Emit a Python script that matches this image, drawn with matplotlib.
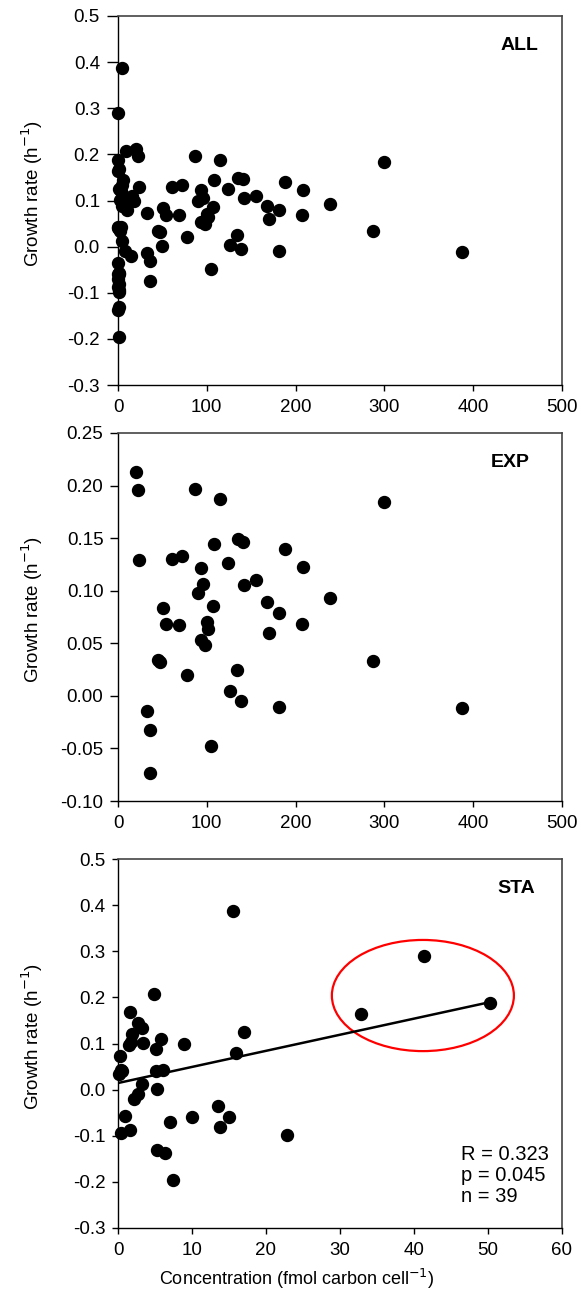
import matplotlib
matplotlib.use('Agg')
import matplotlib.pyplot as plt
from matplotlib.patches import Ellipse
from matplotlib.ticker import FormatStrFormatter

plt.rcParams['font.family'] = ['Liberation Sans', 'DejaVu Sans']
plt.rcParams['axes.unicode_minus'] = False

# exponential phase samples
exp_x = [20.3, 22.5, 24.0, 87.1, 114.9, 299.9, 60.8, 72.4, 108.5, 135.5,
         140.4, 188.1, 93.1, 123.9, 208.3, 155.4, 141.9, 95.3, 90.5, 239.1,
         168.2, 51.1, 107.4, 180.9, 54.1, 69.1, 100.6, 101.7, 206.8, 170.4,
         93.5, 98.0, 45.4, 47.3, 286.8, 77.3, 133.6, 126.1, 138.5, 180.9,
         387.0, 33.0, 36.4, 104.7, 36.4]
exp_y = [0.2125, 0.196, 0.129, 0.197, 0.187, 0.184, 0.130, 0.133, 0.144, 0.149,
         0.146, 0.140, 0.122, 0.126, 0.123, 0.110, 0.105, 0.106, 0.098, 0.093,
         0.089, 0.084, 0.085, 0.079, 0.068, 0.0675, 0.070, 0.064, 0.068, 0.060,
         0.053, 0.048, 0.034, 0.032, 0.033, 0.020, 0.025, 0.0044, -0.005, -0.0105,
         -0.0114, -0.014, -0.032, -0.048, -0.0735]

# stationary phase samples
sta_x = [15.6, 4.86, 1.58, 2.75, 3.29, 1.94, 1.53, 1.8, 3.42, 5.81,
         5.14, 8.92, 17.07, 15.99, 0.27, 0.41, 0.18, 5.14, 6.04, 3.29,
         5.23, 2.75, 2.12, 0.95, 13.56, 9.95, 14.95, 7.07, 13.78, 0.45,
         1.67, 22.88, 5.23, 6.40, 7.48, 32.84, 41.3, 50.27, 0.5]
sta_y = [0.387, 0.207, 0.169, 0.145, 0.133, 0.120, 0.096, 0.104, 0.102, 0.109,
         0.087, 0.098, 0.126, 0.080, 0.072, 0.042, 0.033, 0.0406, 0.0434, 0.013,
         0.0014, -0.010, -0.020, -0.058, -0.035, -0.059, -0.059, -0.070, -0.080, -0.093,
         -0.087, -0.099, -0.130, -0.137, -0.197, 0.164, 0.289, 0.188, 0.040]
# where the stationary samples sit in the ALL panel
sta_x_all = [5.0, 8.6, 1.1, 6.0, 4.0, 3.0, 8.0, 12.0, 2.0, 16.0,
             5.0, 18.0, 1.0, 10.0, 33.0, 0.5, 2.0, 1.0, 3.0, 4.0,
             50.0, 8.0, 15.0, 1.0, 0.5, 0.5, 1.0, 0.5, 1.0, 1.0,
             0.5, 1.0, 1.0, 0.5, 1.0, 0.5, 0.4, 0.0, 0.5]

fit_intercept = 0.0143
fit_slope = 0.00349
stats_text = 'R = 0.323\np = 0.045\nn = 39'

all_x = exp_x + sta_x_all
all_y = exp_y + sta_y

W, H = 581, 1299
fig = plt.figure(figsize=(W / 100, H / 100), dpi=100)


def make_axes(top, bottom):
    left, right = 118, 562
    return fig.add_axes([left / W, 1 - bottom / H, (right - left) / W, (bottom - top) / H])


def style(ax, ylen):
    for s in ['top', 'right']:
        ax.spines[s].set_color('#444444')
        ax.spines[s].set_linewidth(1.2)
    for s in ['left', 'bottom']:
        ax.spines[s].set_color('black')
        ax.spines[s].set_linewidth(1.0)
    ax.tick_params(axis='y', direction='out', length=ylen, width=1, labelsize=13.5, pad=5)
    ax.tick_params(axis='x', direction='out', length=4, width=1, labelsize=13.5, pad=6)
    ax.set_ylabel('Growth rate (h$^{-1}$)', fontsize=13.5)
    ax.yaxis.set_label_coords(-0.165, 0.52)


ms = 8.6

ax1 = make_axes(16, 385)
ax1.plot(all_x, all_y, 'o', color='black', markersize=ms, linestyle='none', clip_on=False)
ax1.set_xlim(0, 500)
ax1.set_ylim(-0.3, 0.5)
ax1.set_xticks(range(0, 501, 100))
ax1.set_yticks([-0.3, -0.2, -0.1, 0.0, 0.1, 0.2, 0.3, 0.4, 0.5])
ax1.yaxis.set_major_formatter(FormatStrFormatter('%.1f'))
style(ax1, 8)
ax1.text(0.905, 0.921, 'ALL', transform=ax1.transAxes, fontsize=14,
         fontweight='bold', ha='center', va='center')

ax2 = make_axes(433, 801)
ax2.plot(exp_x, exp_y, 'o', color='black', markersize=ms, linestyle='none', clip_on=False)
ax2.set_xlim(0, 500)
ax2.set_ylim(-0.10, 0.25)
ax2.set_xticks(range(0, 501, 100))
ax2.set_yticks([-0.10, -0.05, 0.0, 0.05, 0.10, 0.15, 0.20, 0.25])
ax2.yaxis.set_major_formatter(FormatStrFormatter('%.2f'))
style(ax2, 5.5)
ax2.text(0.883, 0.921, 'EXP', transform=ax2.transAxes, fontsize=14,
         fontweight='bold', ha='center', va='center')

ax3 = make_axes(859, 1228)
ax3.plot(sta_x, sta_y, 'o', color='black', markersize=ms, linestyle='none', clip_on=False)
x0, x1 = min(sta_x), max(sta_x)
ax3.plot([x0, x1], [fit_intercept + fit_slope * x0, fit_intercept + fit_slope * x1],
         color='black', linewidth=1.8)
ax3.add_patch(Ellipse((41.2, 0.204), 24.6, 0.241, fill=False, edgecolor='#ff0000', linewidth=1.6))
ax3.set_xlim(0, 60)
ax3.set_ylim(-0.3, 0.5)
ax3.set_xticks(range(0, 61, 10))
ax3.set_yticks([-0.3, -0.2, -0.1, 0.0, 0.1, 0.2, 0.3, 0.4, 0.5])
ax3.yaxis.set_major_formatter(FormatStrFormatter('%.1f'))
style(ax3, 4)
ax3.text(0.898, 0.921, 'STA', transform=ax3.transAxes, fontsize=14,
         fontweight='bold', ha='center', va='center')
ax3.text(0.7725, 0.225, stats_text, transform=ax3.transAxes, fontsize=14.5,
         ha='left', va='top', linespacing=1.12)
ax3.set_xlabel('Concentration (fmol carbon cell$^{-1}$)', fontsize=13)
ax3.xaxis.set_label_coords(0.403, -0.105)

fig.savefig('out.png', dpi=100)
